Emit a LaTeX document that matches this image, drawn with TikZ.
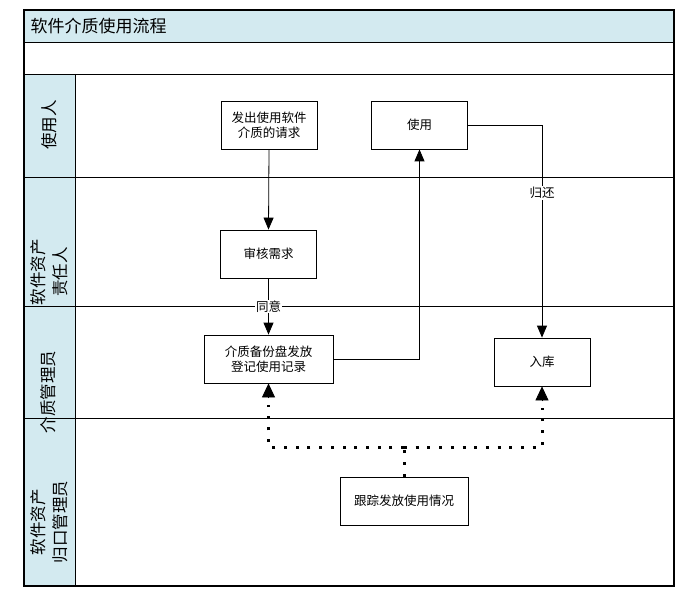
\documentclass[tikz,border=0pt]{standalone}
\usepackage{fontspec}
\newfontfamily\cjk{Noto Sans CJK SC}
\usetikzlibrary{arrows.meta}
\definecolor{hdrblue}{HTML}{D3EAF0}
\tikzset{
  procbox/.style={draw, line width=0.8pt, minimum width=96pt, minimum height=48pt, align=center, inner sep=2pt, fill=white, font=\cjk\fontsize{12.5}{15}\selectfont},
  lanelabel/.style={rotate=90, align=center, font=\cjk\fontsize{16.5}{22}\selectfont},
  flow/.style={line width=0.8pt, -{Triangle[width=10pt,length=12pt]}},
  dotline/.style={line width=3pt, dash pattern=on 3pt off 8.7pt},
  bigtip/.style={line width=0.8pt, -{Triangle[width=13pt,length=14pt]}},
  lbl/.style={fill=white, inner sep=1pt, font=\cjk\fontsize{12.5}{15}\selectfont},
  laneline/.style={line width=0.8pt}
}
\begin{document}
\begin{tikzpicture}[x=1pt,y=-1pt]
\useasboundingbox (0,0) rectangle (699,599);
% backgrounds
\fill[hdrblue] (24,10) rectangle (674,42);
\fill[hdrblue] (24,74) rectangle (75,586);
% lane lines
\draw[laneline] (24,42) -- (674,42);
\draw[laneline] (24,74) -- (674,74);
\draw[laneline] (24,177) -- (674,177);
\draw[laneline] (24,306) -- (674,306);
\draw[laneline] (24,418) -- (674,418);
\draw[laneline] (75,74) -- (75,586);
\draw[line width=1.5pt] (24,10) rectangle (674,586);
% title
\node[anchor=west, font=\cjk\fontsize{17}{20}\selectfont] (title) at (27,26) {软件介质使用流程};
% lane labels
\node[lanelabel] (l1) at (49,125) {使用人};
\node[lanelabel] (l2) at (49,272) {软件资产\\责任人};
\node[lanelabel] (l3) at (48,392) {介质管理员};
\node[lanelabel] (l4) at (49,522) {软件资产\\归口管理员};
% boxes
\node[procbox] (req) at (269,125) {发出使用软件\\介质的请求};
\node[procbox] (use) at (419.5,125) {使用};
\node[procbox] (rev) at (268.5,254) {审核需求};
\node[procbox, minimum width=129pt] (issue) at (268.5,359) {介质备份盘发放\\登记使用记录};
\node[procbox] (store) at (542,362) {入库};
\node[procbox, minimum width=128pt] (track) at (404,501) {跟踪发放使用情况};
% connectors
\draw[flow] (req.south) -- (rev.north);
\draw[flow] (rev.south) -- node[lbl] {同意} (issue.north);
\draw[flow] (issue.east) -| (use.south);
\draw[flow] (use.east) -| node[lbl, pos=0.66] {归还} (store.north);
\coordinate (j) at (404,447);
\coordinate (ia) at ([yshift=-22pt]issue.south);
\coordinate (sa) at ([yshift=-22pt]store.south);
\draw[dotline] (track.north) -- (j);
\draw[dotline] (j) -| (ia);
\draw[dotline] (j) -| (sa);
\draw[bigtip] ([yshift=-15pt]issue.south) -- (issue.south);
\draw[bigtip] ([yshift=-15pt]store.south) -- (store.south);
\end{tikzpicture}
\end{document}
